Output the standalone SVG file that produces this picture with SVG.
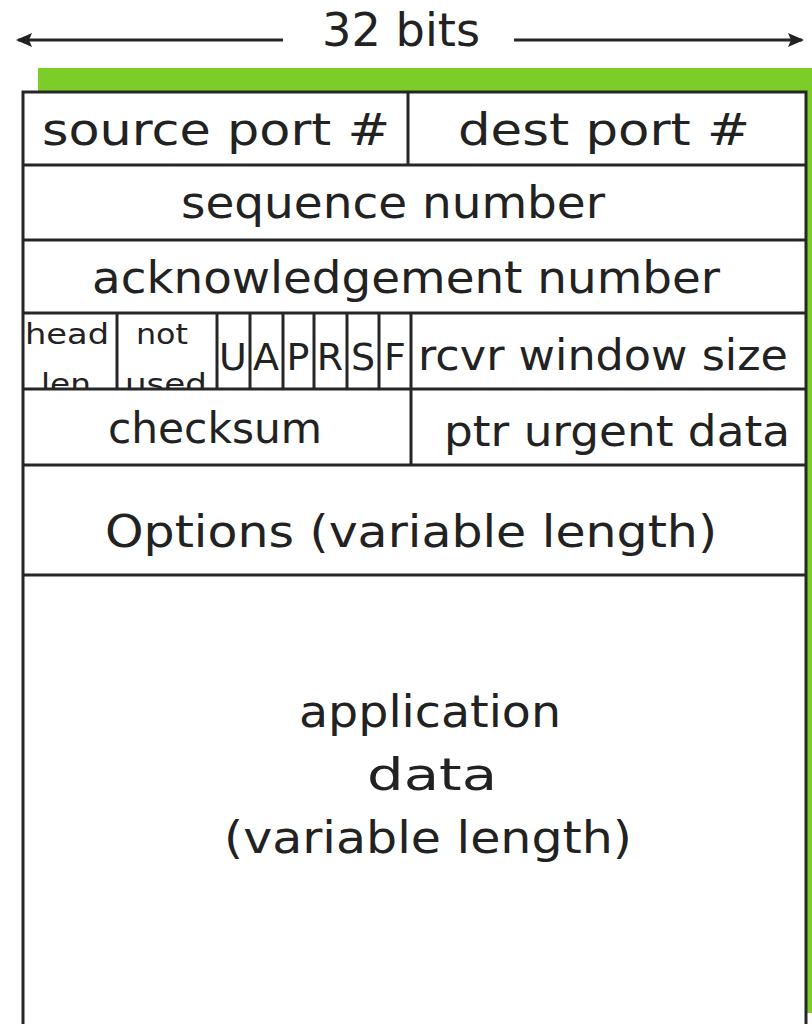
<svg xmlns="http://www.w3.org/2000/svg" width="812" height="1024" viewBox="0 0 812 1024">
<style>
.t{font-family:"DejaVu Sans","Noto Sans",sans-serif;fill:#222;text-anchor:middle}
.l{stroke:#262626;stroke-width:3;fill:none}
</style>
<defs>
<marker id="ah" markerWidth="16" markerHeight="14" refX="14" refY="7" orient="auto" markerUnits="userSpaceOnUse" viewBox="0 0 16 14">
<path d="M0,0 L16,7 L0,14 L3,7 Z" fill="#222"/>
</marker>
<clipPath id="r4"><rect x="22" y="314" width="784" height="75"/></clipPath>
</defs>
<rect width="812" height="1024" fill="#fff"/>
<g id="frame">
<rect x="38" y="68" width="774" height="23" fill="#7ccd28"/>
<rect x="807" y="68" width="5" height="945" fill="#7ccd28"/>
<path class="l" d="M23,1024 V92 H806 V1024"/>
</g>
<g id="connectors">
<line class="l" x1="283" y1="40" x2="18" y2="40" marker-end="url(#ah)"/>
<line class="l" x1="514" y1="40" x2="802" y2="40" marker-end="url(#ah)"/>
</g>
<g id="width-label"><text class="t" x="401" y="46" font-size="46" textLength="158" lengthAdjust="spacingAndGlyphs">32 bits</text></g>
<g id="row-ports">
<line class="l" x1="408" y1="92" x2="408" y2="165"/>
<line class="l" x1="22" y1="165" x2="806" y2="165"/>
<text class="t" x="216" y="145" font-size="44" textLength="348" lengthAdjust="spacingAndGlyphs">source port #</text>
<text class="t" x="604" y="145" font-size="44" textLength="292" lengthAdjust="spacingAndGlyphs">dest port #</text>
</g>
<g id="row-seq">
<line class="l" x1="22" y1="240" x2="806" y2="240"/>
<text class="t" x="393" y="218" font-size="44" textLength="424" lengthAdjust="spacingAndGlyphs">sequence number</text>
</g>
<g id="row-ack">
<line class="l" x1="22" y1="313" x2="806" y2="313"/>
<text class="t" x="406" y="293" font-size="44" textLength="628" lengthAdjust="spacingAndGlyphs">acknowledgement number</text>
</g>
<g id="row-flags">
<g clip-path="url(#r4)">
<text class="t" x="67" y="344" font-size="28" textLength="84" lengthAdjust="spacingAndGlyphs">head</text>
<text class="t" x="66" y="394" font-size="28" textLength="50" lengthAdjust="spacingAndGlyphs">len</text>
<text class="t" x="162" y="344" font-size="28" textLength="52" lengthAdjust="spacingAndGlyphs">not</text>
<text class="t" x="166" y="394" font-size="28" textLength="82" lengthAdjust="spacingAndGlyphs">used</text>
</g>
<line class="l" x1="117" y1="313" x2="117" y2="389"/>
<line class="l" x1="217" y1="313" x2="217" y2="389"/>
<line class="l" x1="250" y1="313" x2="250" y2="389"/>
<line class="l" x1="283" y1="313" x2="283" y2="389"/>
<line class="l" x1="314" y1="313" x2="314" y2="389"/>
<line class="l" x1="347" y1="313" x2="347" y2="389"/>
<line class="l" x1="379" y1="313" x2="379" y2="389"/>
<line class="l" x1="411" y1="313" x2="411" y2="389"/>
<text class="t" x="233" y="370" font-size="38">U</text>
<text class="t" x="266" y="370" font-size="38">A</text>
<text class="t" x="298" y="370" font-size="38">P</text>
<text class="t" x="330" y="370" font-size="38">R</text>
<text class="t" x="363" y="370" font-size="38">S</text>
<text class="t" x="395" y="370" font-size="38">F</text>
<text class="t" x="603" y="370" font-size="42" textLength="370" lengthAdjust="spacingAndGlyphs">rcvr window size</text>
<line class="l" x1="22" y1="389" x2="806" y2="389"/>
</g>
<g id="row-checksum">
<line class="l" x1="411" y1="389" x2="411" y2="465"/>
<line class="l" x1="22" y1="465" x2="806" y2="465"/>
<text class="t" x="215" y="443" font-size="42" textLength="214" lengthAdjust="spacingAndGlyphs">checksum</text>
<text class="t" x="617" y="446" font-size="42" textLength="346" lengthAdjust="spacingAndGlyphs">ptr urgent data</text>
</g>
<g id="row-options">
<line class="l" x1="22" y1="575" x2="806" y2="575"/>
<text class="t" x="411" y="547" font-size="44" textLength="612" lengthAdjust="spacingAndGlyphs">Options (variable length)</text>
</g>
<g id="row-data">
<text class="t" x="430" y="727" font-size="44" textLength="262" lengthAdjust="spacingAndGlyphs">application</text>
<text class="t" x="432" y="790" font-size="44" textLength="130" lengthAdjust="spacingAndGlyphs">data</text>
<text class="t" x="428" y="853" font-size="44" textLength="408" lengthAdjust="spacingAndGlyphs">(variable length)</text>
</g>
</svg>
